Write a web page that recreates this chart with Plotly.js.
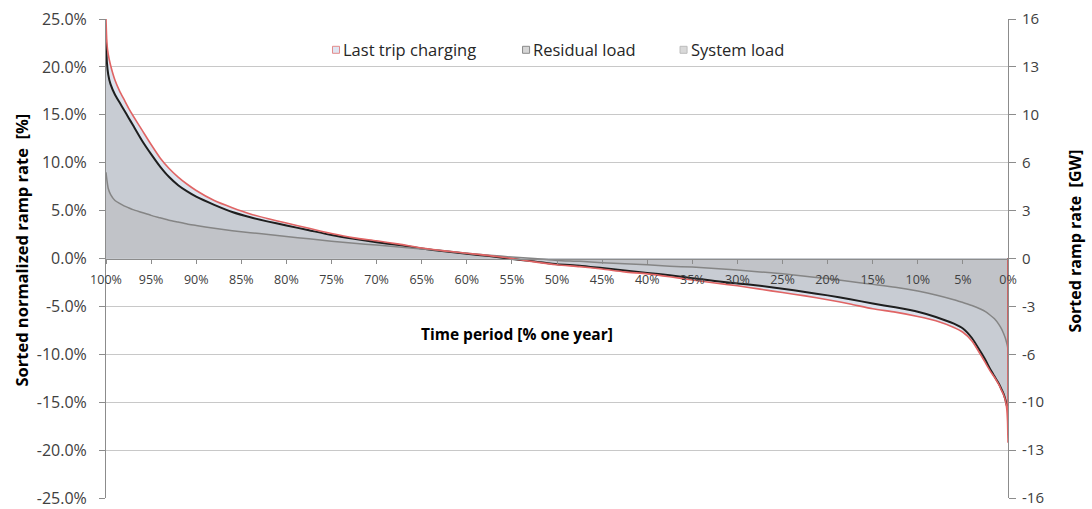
<!DOCTYPE html>
<html>
<head>
<meta charset="utf-8">
<script src="https://cdn.plot.ly/plotly-3.0.1.min.js"></script>
<style>
  html, body { margin: 0; padding: 0; background: #ffffff; }
  #chart { width: 1092px; height: 509px; }
</style>
</head>
<body>
<div id="chart"></div>
<script>
// Share of the year (%), sorted from highest to lowest ramp rate
const timeShare = [100, 99.9, 99.75, 99.5, 99, 98.5, 98, 97.5, 97, 96, 95, 94, 93, 92, 91, 90,
  88, 86, 84, 82, 80, 77.5, 75, 72.5, 70, 67.5, 65, 62.5, 60, 57.5, 55, 52.5, 50, 47.5, 45,
  42.5, 40, 37.5, 35, 32.5, 30, 27.5, 25, 22.5, 20, 17.5, 15, 12.5, 10, 8, 6, 5, 4, 3, 2.5,
  2, 1.5, 1, 0.75, 0.5, 0.3, 0.15, 0.05, 0];

// Sorted normalized ramp rate (%) per series
const lastTripCharging = [25.0, 22.5, 21.3, 20.2, 18.6, 17.5, 16.6, 15.7, 14.9, 13.4, 11.9, 10.5,
  9.4, 8.5, 7.75, 7.1, 6.05, 5.3, 4.65, 4.15, 3.7, 3.15, 2.6, 2.15, 1.85, 1.5, 1.1, 0.8, 0.55, 0.3,
  0.0, -0.35, -0.65, -0.85, -1.1, -1.4, -1.6, -1.9, -2.25, -2.55, -2.85, -3.2, -3.55, -3.9, -4.3,
  -4.75, -5.25, -5.6, -6.05, -6.5, -7.2, -7.7, -8.6, -10.1, -10.9, -11.7, -12.4, -13.2, -13.7,
  -14.2, -14.8, -15.6, -17.0, -19.2];

const residualLoad = [23.0, 20.5, 19.2, 18.2, 17.1, 16.3, 15.5, 14.7, 13.9, 12.3, 10.9, 9.6, 8.5,
  7.65, 7.0, 6.45, 5.6, 4.85, 4.3, 3.85, 3.45, 2.95, 2.45, 2.05, 1.7, 1.4, 1.05, 0.75, 0.5, 0.25,
  -0.05, -0.3, -0.6, -0.75, -1.0, -1.25, -1.5, -1.75, -2.05, -2.35, -2.6, -2.85, -3.15, -3.5,
  -3.85, -4.25, -4.7, -5.1, -5.55, -6.1, -6.8, -7.3, -8.3, -9.8, -10.6, -11.5, -12.3, -13.1,
  -13.6, -14.1, -14.7, -15.3, -15.6, -15.7];

const systemLoad = [9.0, 8.2, 7.3, 6.7, 6.05, 5.75, 5.5, 5.3, 5.1, 4.8, 4.5, 4.25, 4.0, 3.8, 3.6,
  3.45, 3.15, 2.9, 2.7, 2.5, 2.3, 2.05, 1.8, 1.58, 1.4, 1.2, 1.0, 0.8, 0.55, 0.35, 0.15, 0.0,
  -0.2, -0.3, -0.45, -0.55, -0.65, -0.8, -0.9, -1.05, -1.2, -1.4, -1.6, -1.85, -2.1, -2.4, -2.7,
  -3.0, -3.4, -3.8, -4.3, -4.6, -4.9, -5.3, -5.55, -5.9, -6.3, -6.9, -7.3, -7.8, -8.3, -8.8,
  -9.2, -9.5];

const seriesNames = ['Last trip charging', 'Residual load', 'System load'];

// Axis ticks
const xTickVals = [100, 95, 90, 85, 80, 75, 70, 65, 60, 55, 50, 45, 40, 35, 30, 25, 20, 15, 10, 5, 0];
const pctTickVals = [-25, -20, -15, -10, -5, 0, 5, 10, 15, 20, 25];
const gwTickVals = [-16, -12.8, -9.6, -6.4, -3.2, 0, 3.2, 6.4, 9.6, 12.8, 16];
const gwTickText = ['-16', '-13', '-10', '-6', '-3', '0', '3', '6', '10', '13', '16'];

const fillColors = ['#dce3ee', '#c8ccd3', '#c1c3c8'];
const lineColors = ['#e06464', '#1e1e1e', '#858585'];
const lineWidths = [1.6, 2, 1.5];
const seriesValues = [lastTripCharging, residualLoad, systemLoad];

const FONT = 'Open Sans, Liberation Sans, sans-serif';
const SMOOTH = { shape: 'spline', smoothing: 0.6 };

// Area outline closes down to the baseline at the last time step
function outline(xs, ys) {
  return { x: xs.concat([xs[xs.length - 1]]), y: ys.concat([0]) };
}

const traces = [];
// filled areas, back to front
seriesValues.forEach((vals, i) => {
  traces.push({
    type: 'scatter', mode: 'lines', x: timeShare, y: vals,
    fill: 'tozeroy', fillcolor: fillColors[i],
    line: Object.assign({ width: 0, color: fillColors[i] }, SMOOTH),
    name: seriesNames[i], showlegend: false, hoverinfo: 'skip'
  });
});
// outlines on top (residual, system, then last trip charging)
[1, 2, 0].forEach(i => {
  const o = outline(timeShare, seriesValues[i]);
  traces.push({
    type: 'scatter', mode: 'lines', x: o.x, y: o.y,
    line: Object.assign({ width: lineWidths[i], color: lineColors[i] }, SMOOTH),
    name: seriesNames[i], showlegend: false
  });
});
// secondary GW scale
traces.push({ type: 'scatter', mode: 'lines', x: [null], y: [null], yaxis: 'y2',
  showlegend: false, hoverinfo: 'skip' });

// legend swatches and labels
const legendX = [0.2511, 0.4618, 0.6364];
const swatchBorder = ['#e38a8a', '#8a8a8a', '#bcbcbc'];
const swatchFill = ['#dfe5f1', '#d6d6d6', '#d9d9d9'];
const shapes = [];
const annotations = [];
seriesNames.forEach((name, i) => {
  shapes.push({ type: 'rect', xref: 'paper', yref: 'paper',
    x0: legendX[i], x1: legendX[i] + 0.0078, y0: 0.9284, y1: 0.9430,
    fillcolor: swatchFill[i], line: { color: swatchBorder[i], width: 1 } });
  annotations.push({ xref: 'paper', yref: 'paper', x: legendX[i] + 0.0095, y: 0.9357,
    xanchor: 'left', yanchor: 'middle', showarrow: false, text: name,
    font: { family: FONT, size: 16.5, color: '#262626' } });
});
// axis titles
annotations.push({ xref: 'paper', yref: 'paper', x: 0.4557, y: 0.3423,
  xanchor: 'center', yanchor: 'middle', showarrow: false,
  text: '<b>Time period [% one year]</b>',
  font: { family: FONT, size: 15.5, color: '#000000' } });
annotations.push({ xref: 'paper', yref: 'paper', x: -0.0931, y: 0.5166,
  xanchor: 'center', yanchor: 'middle', showarrow: false, textangle: -90,
  text: '<b>Sorted normalized ramp rate \u00a0[%]</b>',
  font: { family: FONT, size: 16.5, color: '#000000' } });
annotations.push({ xref: 'paper', yref: 'paper', x: 1.0743, y: 0.5353,
  xanchor: 'center', yanchor: 'middle', showarrow: false, textangle: -90,
  text: '<b>Sorted ramp rate \u00a0[GW]</b>',
  font: { family: FONT, size: 16, color: '#000000' } });

const layout = {
  width: 1092, height: 509,
  margin: { l: 106, r: 84, t: 19, b: 11, pad: 0 },
  paper_bgcolor: '#ffffff', plot_bgcolor: '#ffffff',
  showlegend: false,
  font: { family: FONT, color: '#404040' },
  xaxis: {
    range: [100, 0], anchor: 'free', position: 0.5,
    tickvals: xTickVals, ticktext: xTickVals.map(v => v + '%'),
    showgrid: false, zeroline: false,
    showline: true, linecolor: '#8c8c8c', linewidth: 1,
    ticks: 'outside', ticklen: 4, tickcolor: '#8c8c8c',
    ticklabelstandoff: 5,
    tickfont: { family: FONT, size: 12.5, color: '#404040' },
    layer: 'above traces'
  },
  yaxis: {
    range: [-25, 25], tickvals: pctTickVals,
    ticktext: pctTickVals.map(v => v.toFixed(1) + '%'),
    showgrid: true, gridcolor: '#c8c8c8', gridwidth: 1, zeroline: false,
    showline: true, linecolor: '#8c8c8c', linewidth: 1,
    ticks: 'outside', ticklen: 6, tickcolor: '#8c8c8c',
    ticklabelstandoff: 9, ticklabeloverflow: 'allow',
    tickfont: { family: FONT, size: 16, color: '#404040' },
    layer: 'above traces'
  },
  yaxis2: {
    overlaying: 'y', side: 'right', range: [-16, 16],
    tickvals: gwTickVals, ticktext: gwTickText,
    showgrid: false, zeroline: false,
    showline: true, linecolor: '#8c8c8c', linewidth: 1,
    ticks: 'outside', ticklen: 7, tickcolor: '#8c8c8c',
    ticklabelstandoff: 3, ticklabeloverflow: 'allow',
    tickfont: { family: FONT, size: 15, color: '#404040' },
    layer: 'below traces'
  },
  shapes: shapes,
  annotations: annotations
};

Plotly.newPlot('chart', traces, layout, { displayModeBar: false, staticPlot: true });
</script>
</body>
</html>
